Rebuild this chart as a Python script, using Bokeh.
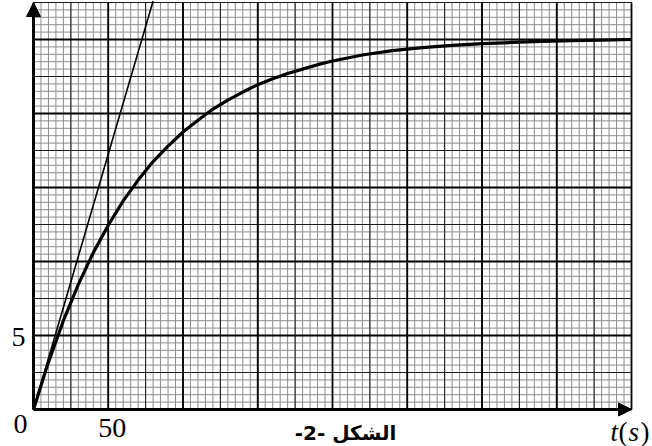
from bokeh.plotting import figure
from bokeh.models import Arrow, NormalHead, Label, Range1d
from bokeh.embed import file_html
from bokeh.resources import INLINE

# ---- data ----
t_s = [0, 10, 20, 30, 40, 50, 60, 70, 80, 90, 100, 110, 120, 130, 140, 150,
       160, 170, 180, 190, 200, 220, 240, 260, 280, 300, 320, 340, 360, 380, 400]
y_val = [0, 3.2, 6.0, 8.45, 10.6, 12.45, 14.1, 15.5, 16.75, 17.8, 18.75, 19.55,
         20.3, 20.9, 21.45, 21.95, 22.35, 22.7, 23.0, 23.3, 23.55, 23.95, 24.25,
         24.45, 24.6, 24.72, 24.8, 24.87, 24.92, 24.96, 25.0]
tangent_t = [0, 80]
tangent_y = [0, 27.6]
x_max = 400
y_max = 27.5
origin_label = "0"
x_tick_label = "50"
x_tick_value = 50
y_tick_label = "5"
y_tick_value = 5
x_axis_title = ["t", "(", "s", ")"]
caption = "-2- الشكل"

# ---- layout (pixels) ----
W, H = 652, 446
left, right, top, bottom = 33, 21, 2, 37   # where the graph paper sits
sx = (W - left - right) / x_max
sy = (H - top - bottom) / y_max
x_range = Range1d(-left / sx, x_max + right / sx)
y_range = Range1d(-bottom / sy, y_max + top / sy)

p = figure(width=W, height=H, x_range=x_range, y_range=y_range,
           output_backend="svg", toolbar_location=None,
           x_axis_location=None, y_axis_location=None,
           min_border=0,
           background_fill_color="white", border_fill_color="white",
           outline_line_color=None)
p.styles = {"position": "absolute", "left": "0px", "top": "0px"}
p.grid.visible = False


def grid_lines(step_x, step_y, color, width):
    nx = int(round(x_max / step_x))
    ny = int(round(y_max / step_y))
    gx = [i * step_x for i in range(nx + 1)]
    gy = [i * step_y for i in range(ny + 1)]
    p.segment(x0=gx, y0=[0] * len(gx), x1=gx, y1=[y_max] * len(gx),
              line_color=color, line_width=width)
    p.segment(x0=[0] * len(gy), y0=gy, x1=[x_max] * len(gy), y1=gy,
              line_color=color, line_width=width)


# graph paper: minor / medium / major
grid_lines(5, 0.5, "#8c8c8c", 1)
grid_lines(25, 2.5, "#1a1a1a", 1)
grid_lines(50, 5, "black", 1.8)

# curves
p.line(tangent_t, tangent_y, line_color="black", line_width=1.6)
p.line(t_s, y_val, line_color="black", line_width=3.2, line_join="round")

# axes with arrows
p.add_layout(Arrow(end=NormalHead(size=13, fill_color="black", line_color="black"),
                   x_start=0, y_start=0, x_end=x_max, y_end=0,
                   line_width=3, line_color="black"))
p.add_layout(Arrow(end=NormalHead(size=14, fill_color="black", line_color="black"),
                   x_start=0, y_start=0, x_end=0, y_end=y_max,
                   line_width=3, line_color="black"))

font = "Liberation Serif"
fs = "28px"


def lab(x, y, text, xo, yo, size=fs, style="normal", f=font, align="center",
        units="data"):
    p.add_layout(Label(x=x, y=y, text=text, x_offset=xo, y_offset=yo,
                       x_units=units, y_units=units,
                       text_align=align, text_baseline="middle",
                       text_font=f, text_font_size=size, text_font_style=style,
                       text_color="black"))


# origin label placed just below-left of the origin (screen pixels)
lab(left - 13, bottom - 14, origin_label, 0, 0, units="screen")
lab(0, y_tick_value, y_tick_label, -15, -1)
lab(x_tick_value, 0, x_tick_label, 4, -18)

# t(s)
offs = [-21, -13, -3, 9]
styles = ["italic", "normal", "italic", "normal"]
for txt, xo, st in zip(x_axis_title, offs, styles):
    lab(x_max, 0, txt, xo, -22, size="27px", style=st, align="left")

lab(x_max / 2, 0, caption, 13, -23, size="20px", style="bold", f="DejaVu Sans")

open("out.html", "w").write(file_html(p, INLINE))
